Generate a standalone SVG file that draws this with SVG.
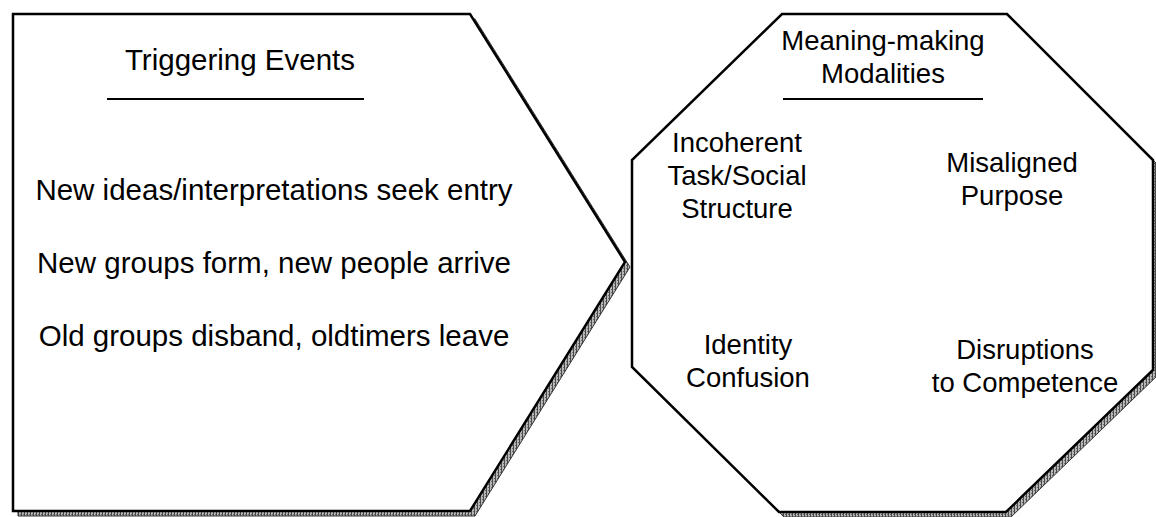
<svg xmlns="http://www.w3.org/2000/svg" width="1156" height="517" viewBox="0 0 1156 517">
  <style>
    .shape { fill: #ffffff; stroke: #000000; stroke-width: 2.5; stroke-linejoin: miter; }
    .shadow { fill: url(#dither); stroke: #333333; stroke-width: 1; }
    .label { font-family: "Liberation Sans", Arial, sans-serif; fill: #000000; text-anchor: middle; }
    .big { font-size: 29.5px; }
    .mid { font-size: 27.5px; }
    .rule { stroke: #000000; stroke-width: 2; }
  </style>
  <defs>
    <!-- fine halftone used for drop shadows -->
    <pattern id="dither" width="3" height="3" patternUnits="userSpaceOnUse">
      <rect width="3" height="3" fill="#b8b8b8"/>
      <rect x="0" y="0" width="1" height="3" fill="#4a4a4a"/>
      <rect x="2" y="1" width="1" height="1" fill="#6a6a6a"/>
    </pattern>
  </defs>

  <!-- Triggering events: chevron block -->
  <g id="triggering-events">
    <polygon class="shadow" points="18,19 475,19 630,267 475,516 18,516"/>
    <polygon class="shape" points="13,14 470,14 625,262 470,511 13,511"/>
    <text class="label big" x="240" y="70">Triggering Events</text>
    <line class="rule" x1="107" y1="99" x2="364" y2="99"/>
    <text class="label big" x="274" y="200">New ideas/interpretations seek entry</text>
    <text class="label big" x="274" y="273">New groups form, new people arrive</text>
    <text class="label big" x="274" y="346">Old groups disband, oldtimers leave</text>
  </g>

  <!-- Meaning-making modalities: octagon block -->
  <g id="meaning-making-modalities">
    <polygon class="shadow" points="787,19 1012,19 1158,165 1158,375 1011,517 784,517 637,372 637,165"/>
    <polygon class="shape" points="782,14 1007,14 1153,160 1153,370 1006,512 779,512 632,367 632,160"/>
    <text class="label mid" x="883" y="50">Meaning-making</text>
    <text class="label mid" x="883" y="83">Modalities</text>
    <line class="rule" x1="783" y1="99" x2="983" y2="99"/>
    <text class="label mid" x="737" y="152">Incoherent</text>
    <text class="label mid" x="737" y="185">Task/Social</text>
    <text class="label mid" x="737" y="218">Structure</text>
    <text class="label mid" x="1012" y="172">Misaligned</text>
    <text class="label mid" x="1012" y="205">Purpose</text>
    <text class="label mid" x="748" y="354">Identity</text>
    <text class="label mid" x="748" y="387">Confusion</text>
    <text class="label mid" x="1025" y="359">Disruptions</text>
    <text class="label mid" x="1025" y="392">to Competence</text>
  </g>

  <g id="connectors"/>
</svg>
